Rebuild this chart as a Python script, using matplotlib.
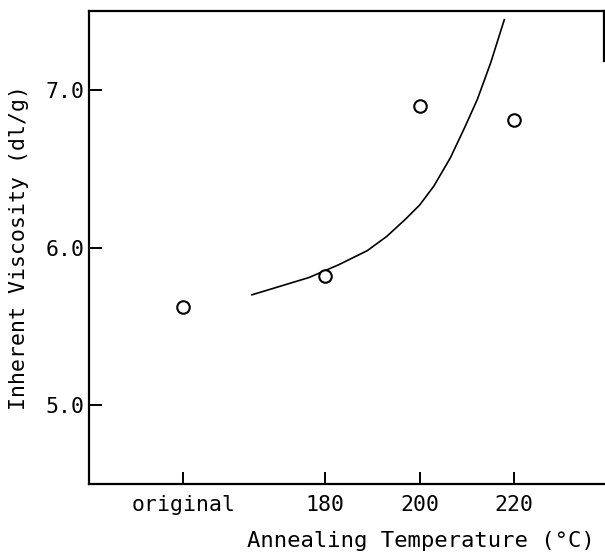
#!/usr/bin/env python3

import matplotlib
matplotlib.use("Agg")
import matplotlib.pyplot as plt

## Measured points (annealing temperature, inherent viscosity)
# "original" sample is plotted at x = 150 on the temperature axis
point_x = [150, 180, 200, 220]
point_y = [5.62, 5.82, 6.90, 6.81]

## Hand-drawn trend curve
curve_x = [164.5, 170, 176.6, 182.8, 188.9, 193, 197, 200, 203, 206.5, 209.5, 212.2, 215, 217.9]
curve_y = [5.70, 5.75, 5.81, 5.89, 5.98, 6.07, 6.18, 6.27, 6.39, 6.57, 6.76, 6.94, 7.17, 7.445]

x_ticks = [150, 180, 200, 220]
x_ticklabels = ['original', '180', '200', '220']
y_ticks = [5.0, 6.0, 7.0]

plt.rcParams['font.family'] = ['DejaVu Sans Mono']

fig = plt.figure(figsize=(6.05, 5.52), dpi=100)
ax = fig.add_axes([89/605, 1 - 484/552, (604 - 89)/605, (484 - 11)/552])

ax.plot(curve_x, curve_y, color='black', linewidth=1.2)
ax.plot(point_x, point_y, 'o', markersize=9, markerfacecolor='white',
        markeredgecolor='black', markeredgewidth=1.5, linestyle='none')

ax.set_xlim(130, 239)
ax.set_ylim(4.5, 7.5)

ax.set_xticks(x_ticks)
ax.set_xticklabels(x_ticklabels)
ax.set_yticks(y_ticks)
ax.set_yticklabels(['%.1f' % v for v in y_ticks])

ax.tick_params(direction='in', length=9, width=1.4, labelsize=15.5, colors='black')
ax.tick_params(axis='x', pad=8)
ax.tick_params(axis='y', pad=3)

for side in ['left', 'bottom', 'top', 'right']:
    ax.spines[side].set_linewidth(1.6)
# the scan cuts the right frame off, only the top piece shows
ax.spines['right'].set_bounds(7.18, 7.5)

ax.set_ylabel('Inherent Viscosity (dl/g)', fontsize=15.5)
ax.yaxis.set_label_coords(-(89 - 29)/515, 0.5)

fig.text(595/605, 1 - 541/552, 'Annealing Temperature (\u00b0C)',
         fontsize=16, ha='right', va='center')

fig.savefig('out.png', dpi=100)
